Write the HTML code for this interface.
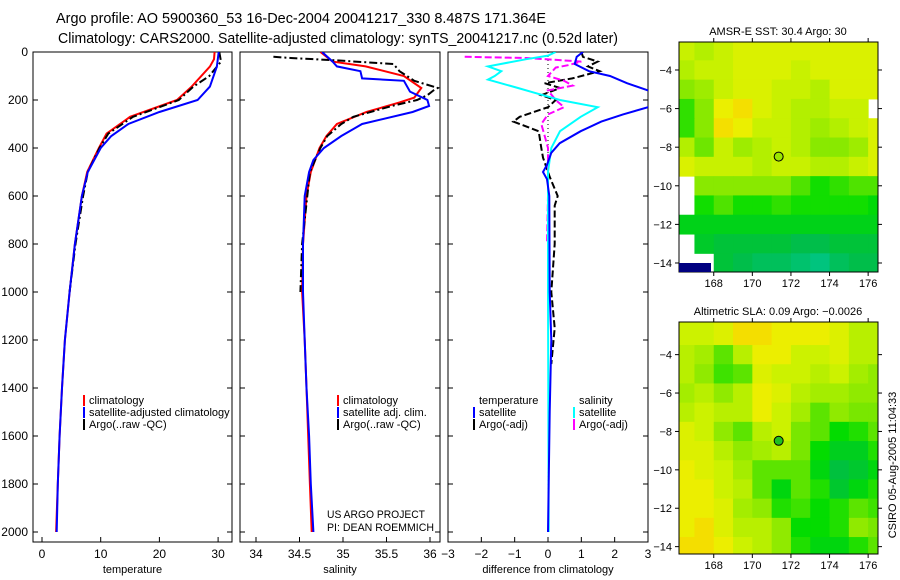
<!DOCTYPE html>
<html><head><meta charset="utf-8"><style>
html,body{margin:0;padding:0;background:#fff;}
svg{display:block;font-family:"Liberation Sans",sans-serif;}
</style></head><body>
<svg id="fig" width="900" height="580" viewBox="0 0 900 580" xmlns="http://www.w3.org/2000/svg">
<defs>
<clipPath id="c1"><rect x="33" y="52" width="199" height="490"/></clipPath>
<clipPath id="c2"><rect x="240" y="52" width="200" height="490"/></clipPath>
<clipPath id="c3"><rect x="448" y="52" width="200" height="490"/></clipPath>
<clipPath id="cm1"><rect x="679" y="42" width="199" height="230"/></clipPath>
<clipPath id="cm2"><rect x="679" y="322" width="199" height="232"/></clipPath>
</defs>
<text x="56" y="23" font-size="15" textLength="490" lengthAdjust="spacingAndGlyphs">Argo profile: AO 5900360_53 16-Dec-2004 20041217_330 8.487S 171.364E</text>
<text x="58" y="43" font-size="15" textLength="560" lengthAdjust="spacingAndGlyphs">Climatology: CARS2000. Satellite-adjusted climatology: synTS_20041217.nc (0.52d later)</text>
<text x="327" y="518" font-size="11" textLength="98" lengthAdjust="spacingAndGlyphs">US ARGO PROJECT</text>
<text x="327" y="531" font-size="11" textLength="107" lengthAdjust="spacingAndGlyphs">PI: DEAN ROEMMICH</text>
<text font-size="11" transform="translate(896,465) rotate(-90)" text-anchor="middle">CSIRO 05-Aug-2005 11:04:33</text>
<g id="g"></g>
</svg>
<script>
// ---- profile data ----
const tempClimDepth=[0,30,61,144,200,270,340,400,500,600,800,1000,1200,1400,1600,1800,2000];
const tempClimVals=[29.4,29.3,28.6,25.5,23.0,15.0,11.0,9.7,7.7,6.8,5.6,4.7,3.9,3.4,3.0,2.7,2.4];
const tempSatDepth=[0,60,144,200,250,300,350,400,500,600,800,1000,1200,1400,1600,1800,2000];
const tempSatVals=[30.1,29.8,28.6,26.5,20.0,14.7,11.8,10.0,7.8,6.8,5.6,4.7,3.9,3.4,3.0,2.7,2.5];
const tempArgoDepth=[0,40,100,144,200,270,340,400,500,600,800,1000];
const tempArgoVals=[30.2,30.5,28.5,25.8,23.3,15.5,11.3,9.8,7.8,7.0,5.7,4.7];
const salClimDepth=[0,40,60,100,150,190,210,250,300,350,400,500,600,800,1000,1200,1400,1600,1800,2000];
const salClimVals=[34.74,34.88,35.26,35.70,35.90,35.82,35.65,35.27,34.93,34.81,34.73,34.63,34.58,34.54,34.53,34.56,34.58,34.60,34.62,34.64];
const salSatDepth=[0,40,60,80,110,120,165,200,225,250,300,350,400,450,500,600,800,1000,1200,1400,1600,1800,2000];
const salSatVals=[34.76,34.88,34.93,35.20,35.22,35.70,35.77,35.97,35.99,35.80,35.22,34.98,34.78,34.66,34.61,34.56,34.54,34.54,34.56,34.58,34.61,34.63,34.66];
const salArgoDepth=[20,25,35,50,80,120,150,160,180,200,225,270,300,350,400,500,800,1000];
const salArgoVals=[34.20,34.40,34.93,35.58,35.65,35.82,36.09,36.04,35.97,35.85,35.56,35.12,34.98,34.82,34.74,34.62,34.53,34.51];
const dTSatDepth=[0,20,50,80,100,130,160,180,230,260,290,330,380,420,470,500,530,600,1000,1200,1500,2000];
const dTSatVals=[1.05,0.86,0.80,1.23,1.86,2.37,3.0,3.6,3.0,2.25,1.6,0.98,0.35,0.10,-0.03,-0.15,-0.03,0.04,0.05,0.10,0.05,0.0];
const dSSatDepth=[0,15,30,60,80,100,115,150,170,200,230,270,330,400,500,1000,2000];
const dSSatVals=[0.23,0.0,-0.65,-1.8,-1.4,-1.6,-1.8,-0.9,-0.4,0.36,1.49,0.98,0.36,0.10,0.0,0.0,0.02];
const dTArgoDepth=[0,20,40,60,80,110,130,150,180,200,230,270,290,330,400,440,520,600,640,800,1000,1150,1300];
const dTArgoVals=[1.0,1.05,1.49,1.2,1.55,0.73,-0.1,0.36,-0.2,0.23,0.0,-0.85,-1.04,-0.28,-0.2,-0.15,0.05,0.29,0.2,0.2,0.1,0.2,0.1];
const dSArgoDepth=[20,25,35,40,55,65,100,120,140,160,200,230,260,300,350,400,600,800];
const dSArgoVals=[-2.5,-0.65,0.48,1.0,0.6,0.23,0.0,0.48,0.74,0.0,0.23,0.48,0.0,-0.2,-0.1,0.0,0.0,-0.03];
const depthTicks=[0,200,400,600,800,1000,1200,1400,1600,1800,2000];
const tempTicks=[0,10,20,30];
const salTicks=[34,34.5,35,35.5,36];
const diffTicks=[-3,-2,-1,0,1,2,3];
// ---- map data ----
const mapLons=[166.5,167.5,168.5,169.5,170.5,171.5,172.5,173.5,174.5,175.5,176.5];
const mapLats=[-3,-4,-5,-6,-7,-8,-9,-10,-11,-12,-13,-14];
const sstGrid=[
[29.9,29.8,29.9,30.0,30.0,30.0,30.0,30.0,30.0,30.0,30.0],
[29.8,29.9,29.9,30.0,30.0,30.0,29.9,30.0,30.0,30.0,30.0],
[29.6,29.7,29.9,30.0,30.0,29.9,29.9,29.8,30.0,30.0,30.0],
[29.3,29.6,30.1,30.2,30.0,29.9,29.8,29.8,29.9,29.9,null],
[29.3,29.6,30.2,30.1,29.9,29.9,29.8,29.7,29.8,29.9,30.0],
[29.8,29.5,29.9,29.7,29.8,29.9,29.8,29.6,29.6,29.7,30.0],
[30.0,29.9,29.9,29.9,29.8,29.9,29.9,29.8,29.8,29.9,30.0],
[null,29.6,29.6,29.6,29.6,29.6,29.4,29.2,29.3,29.4,29.4],
[null,29.2,29.4,29.2,29.2,29.3,29.2,29.2,29.2,29.2,29.1],
[29.0,29.0,29.0,29.0,29.0,29.0,29.0,29.0,29.0,29.0,29.0],
[null,28.9,28.8,28.8,28.8,28.8,28.7,28.7,28.8,28.8,28.8],
[null,null,28.8,28.7,28.6,28.6,28.5,28.4,28.6,28.7,28.7]];
const slaGrid=[
[0.10,0.10,0.11,0.13,0.13,0.12,0.12,0.12,0.11,0.09,0.09],
[0.09,0.08,0.05,0.09,0.12,0.12,0.10,0.10,0.11,0.09,0.09],
[0.09,0.07,0.04,0.05,0.11,0.10,0.10,0.09,0.10,0.08,0.07],
[0.08,0.09,0.07,0.09,0.12,0.11,0.09,0.08,0.08,0.07,0.07],
[0.09,0.10,0.09,0.09,0.12,0.10,0.08,0.05,0.07,0.06,0.06],
[0.11,0.10,0.07,0.05,0.09,0.10,0.06,0.05,0.02,0.03,0.05],
[0.11,0.11,0.09,0.07,0.08,0.09,0.06,0.02,0.00,0.00,0.03],
[0.12,0.11,0.10,0.08,0.05,0.05,0.05,0.01,-0.02,-0.01,0.01],
[0.12,0.12,0.10,0.09,0.05,0.01,0.05,0.03,-0.01,0.01,0.03],
[0.12,0.12,0.11,0.08,0.07,0.03,0.04,0.02,0.03,0.05,0.04],
[0.12,0.13,0.11,0.09,0.09,0.07,0.02,0.02,0.03,0.07,0.06],
[0.13,0.13,0.12,0.10,0.09,0.07,0.03,0.01,0.01,0.03,0.05]];
const mapLonTicks=[168,170,172,174,176];
const mapLatTicks=[-4,-6,-8,-10,-12,-14];
const argoLon=171.364, argoLat=-8.487;

const NS='http://www.w3.org/2000/svg';
const G=document.getElementById('g');
function mk(tag,attrs,parent){const e=document.createElementNS(NS,tag);for(const k in attrs)e.setAttribute(k,attrs[k]);(parent||G).appendChild(e);return e;}
const yD=d=>52+0.24*d;
const panels=[
 {x0:33,x1:232,sx:v=>42+5.87*v,clip:'c1',ticks:tempTicks,title:'temperature',name:'temperature'},
 {x0:240,x1:440,sx:v=>256+87*(v-34),clip:'c2',ticks:salTicks,title:'salinity',name:'salinity'},
 {x0:448,x1:648,sx:v=>548+33.33*v,clip:'c3',ticks:diffTicks,title:'difference from climatology',name:'difference'}];
panels.forEach((p,i)=>{
  const f=mk('rect',{x:p.x0,y:52,width:p.x1-p.x0,height:490,fill:'none',stroke:'#000','stroke-width':1});
  
  
  depthTicks.forEach(d=>{
    const t1=mk('line',{x1:p.x0,x2:p.x0+5,y1:yD(d),y2:yD(d),stroke:'#000'});
    
    
    const t2=mk('line',{x1:p.x1-5,x2:p.x1,y1:yD(d),y2:yD(d),stroke:'#000'});
    
    
    if(i===0){const l=mk('text',{x:28,y:yD(d)+4,'font-size':12,'text-anchor':'end'});l.textContent=d;
      
      }
  });
  p.ticks.forEach(v=>{
    const x=p.sx(v);
    const t=mk('line',{x1:x,x2:x,y1:537,y2:542,stroke:'#000'});
    
    
    const l=mk('text',{x:x,y:558,'font-size':12,'text-anchor':'middle'});l.textContent=(v<0?'\u2212'+(-v):v);
    
    
  });
  const at=mk('text',{x:(p.x0+p.x1)/2,y:573,'font-size':11,'text-anchor':'middle'});at.textContent=p.title;
  
  
});
function line(pi,depths,vals,color,dash,name){
  const p=panels[pi];
  const pts=depths.map((d,k)=>p.sx(vals[k]).toFixed(1)+','+yD(d).toFixed(1)).join(' ');
  const e=mk('polyline',{points:pts,fill:'none',stroke:color,'stroke-width':2,'clip-path':'url(#'+p.clip+')'});
  if(dash)e.setAttribute('stroke-dasharray',dash);
  
  
}
line(0,tempClimDepth,tempClimVals,'#ff0000','','temp-climatology-line');
line(0,tempArgoDepth,tempArgoVals,'#000','8,3,2,3','temp-argo-line');
line(0,tempSatDepth,tempSatVals,'#0000ff','','temp-satellite-line');
line(1,salClimDepth,salClimVals,'#ff0000','','sal-climatology-line');
line(1,salArgoDepth,salArgoVals,'#000','8,3,2,3','sal-argo-line');
line(1,salSatDepth,salSatVals,'#0000ff','','sal-satellite-line');
const z=mk('line',{x1:548,x2:548,y1:52,y2:532,stroke:'#000','stroke-dasharray':'1,3'});


line(2,dTArgoDepth,dTArgoVals,'#000','7,3','temp-argo-diff-line');
line(2,dSArgoDepth,dSArgoVals,'#ff00ff','7,3','sal-argo-diff-line');
line(2,dSSatDepth,dSSatVals,'#00ffff','','sal-satellite-diff-line');
line(2,dTSatDepth,dTSatVals,'#0000ff','','temp-satellite-diff-line');
function legend(x,y,color,text,name){
  if(color){const m=mk('line',{x1:x,x2:x,y1:y-9,y2:y+2,stroke:color,'stroke-width':2});
    
    }
  const t=mk('text',{x:x+5,y:y,'font-size':11});t.textContent=text;
  
  
}
legend(84,404,'#ff0000','climatology','legend-climatology');
legend(84,416,'#0000ff','satellite-adjusted climatology','legend-satellite');
legend(84,428,'#000','Argo(..raw -QC)','legend-argo');
legend(338,404,'#ff0000','climatology','legend-sal-climatology');
legend(338,416,'#0000ff','satellite adj. clim.','legend-sal-satellite');
legend(338,428,'#000','Argo(..raw -QC)','legend-sal-argo');
legend(474,404,null,'temperature','legend-temp-header');
legend(474,416,'#0000ff','satellite','legend-temp-satellite');
legend(474,428,'#000','Argo(-adj)','legend-temp-argo');
legend(574,404,null,'salinity','legend-sal-header');
legend(574,416,'#00ffff','satellite','legend-sal-sat-diff');
legend(574,428,'#ff00ff','Argo(-adj)','legend-sal-argo-diff');

// ---- maps ----
const stops=[[0,[0,200,160]],[0.25,[0,190,70]],[0.45,[0,220,0]],[0.65,[130,232,0]],[0.82,[205,242,0]],[0.92,[240,238,0]],[1,[250,200,0]]];
function cmap(t){t=Math.max(0,Math.min(1,t));for(let i=1;i<stops.length;i++){if(t<=stops[i][0]){const a=stops[i-1],b=stops[i],f=(t-a[0])/(b[0]-a[0]);return 'rgb('+a[1].map((c,k)=>Math.round(c+(b[1][k]-c)*f)).join(',')+')';}}return 'rgb(250,200,0)';}
function drawMap(m){
  const sx=lon=>679+(lon-166.2)*19.3;
  const sy=lat=>m.y0+(m.latTop-lat)*m.ppd;
  const bg=mk('rect',{x:679,y:m.y0,width:199,height:m.h,fill:'#fff'});
  
  
  m.grid.forEach((row,r)=>row.forEach((v,c)=>{
    if(v===null)return;
    const x=sx(mapLons[c]-0.5);
    let y=sy(mapLats[r]+0.5), h=m.ppd+0.5;
    if(r===0){h+=y-m.y0;y=m.y0;}
    const cell=mk('rect',{x:x,y:y,width:19.3+0.5,height:h,fill:cmap((v-m.vmin)/(m.vmax-m.vmin)),'clip-path':'url(#'+m.clip+')'});
    
    
  }));
  const fr=mk('rect',{x:679,y:m.y0,width:199,height:m.h,fill:'none',stroke:'#000'});
  
  
  mapLonTicks.forEach(lon=>{
    const x=sx(lon);
    const t=mk('line',{x1:x,x2:x,y1:m.y0+m.h,y2:m.y0+m.h+4,stroke:'#000'});
    
    
    const t2=mk('line',{x1:x,x2:x,y1:m.y0-4,y2:m.y0,stroke:'#000'});
    
    
    const l=mk('text',{x:x,y:m.y0+m.h+15,'font-size':11,'text-anchor':'middle'});l.textContent=lon;
    
    
  });
  mapLatTicks.forEach(lat=>{
    const y=sy(lat);
    const t=mk('line',{x1:675,x2:679,y1:y,y2:y,stroke:'#000'});
    
    
    const t2=mk('line',{x1:878,x2:882,y1:y,y2:y,stroke:'#000'});
    
    
    const l=mk('text',{x:672,y:y+4,'font-size':11,'text-anchor':'end'});l.textContent='\u2212'+(-lat);
    
    
  });
  const c=mk('circle',{cx:sx(argoLon),cy:sy(argoLat),r:4.5,fill:m.dot,stroke:'#000','stroke-width':1});
  
  
  const ti=mk('text',{x:778,y:m.y0-7,'font-size':11,'text-anchor':'middle'});ti.textContent=m.title;
  
  
}
drawMap({name:'sst-map',y0:42,h:230,latTop:-2.55,ppd:19.3,grid:sstGrid,vmin:28.2,vmax:30.3,clip:'cm1',dot:'#9be600',title:'AMSR-E SST: 30.4 Argo: 30'});
const navy=mk('rect',{x:679,y:263,width:32,height:9,fill:'#000080'});


drawMap({name:'sla-map',y0:322,h:232,latTop:-2.3,ppd:19.2,grid:slaGrid,vmin:-0.08,vmax:0.14,clip:'cm2',dot:'#20c020',title:'Altimetric SLA: 0.09 Argo: \u22120.0026'});
</script>
</body></html>
